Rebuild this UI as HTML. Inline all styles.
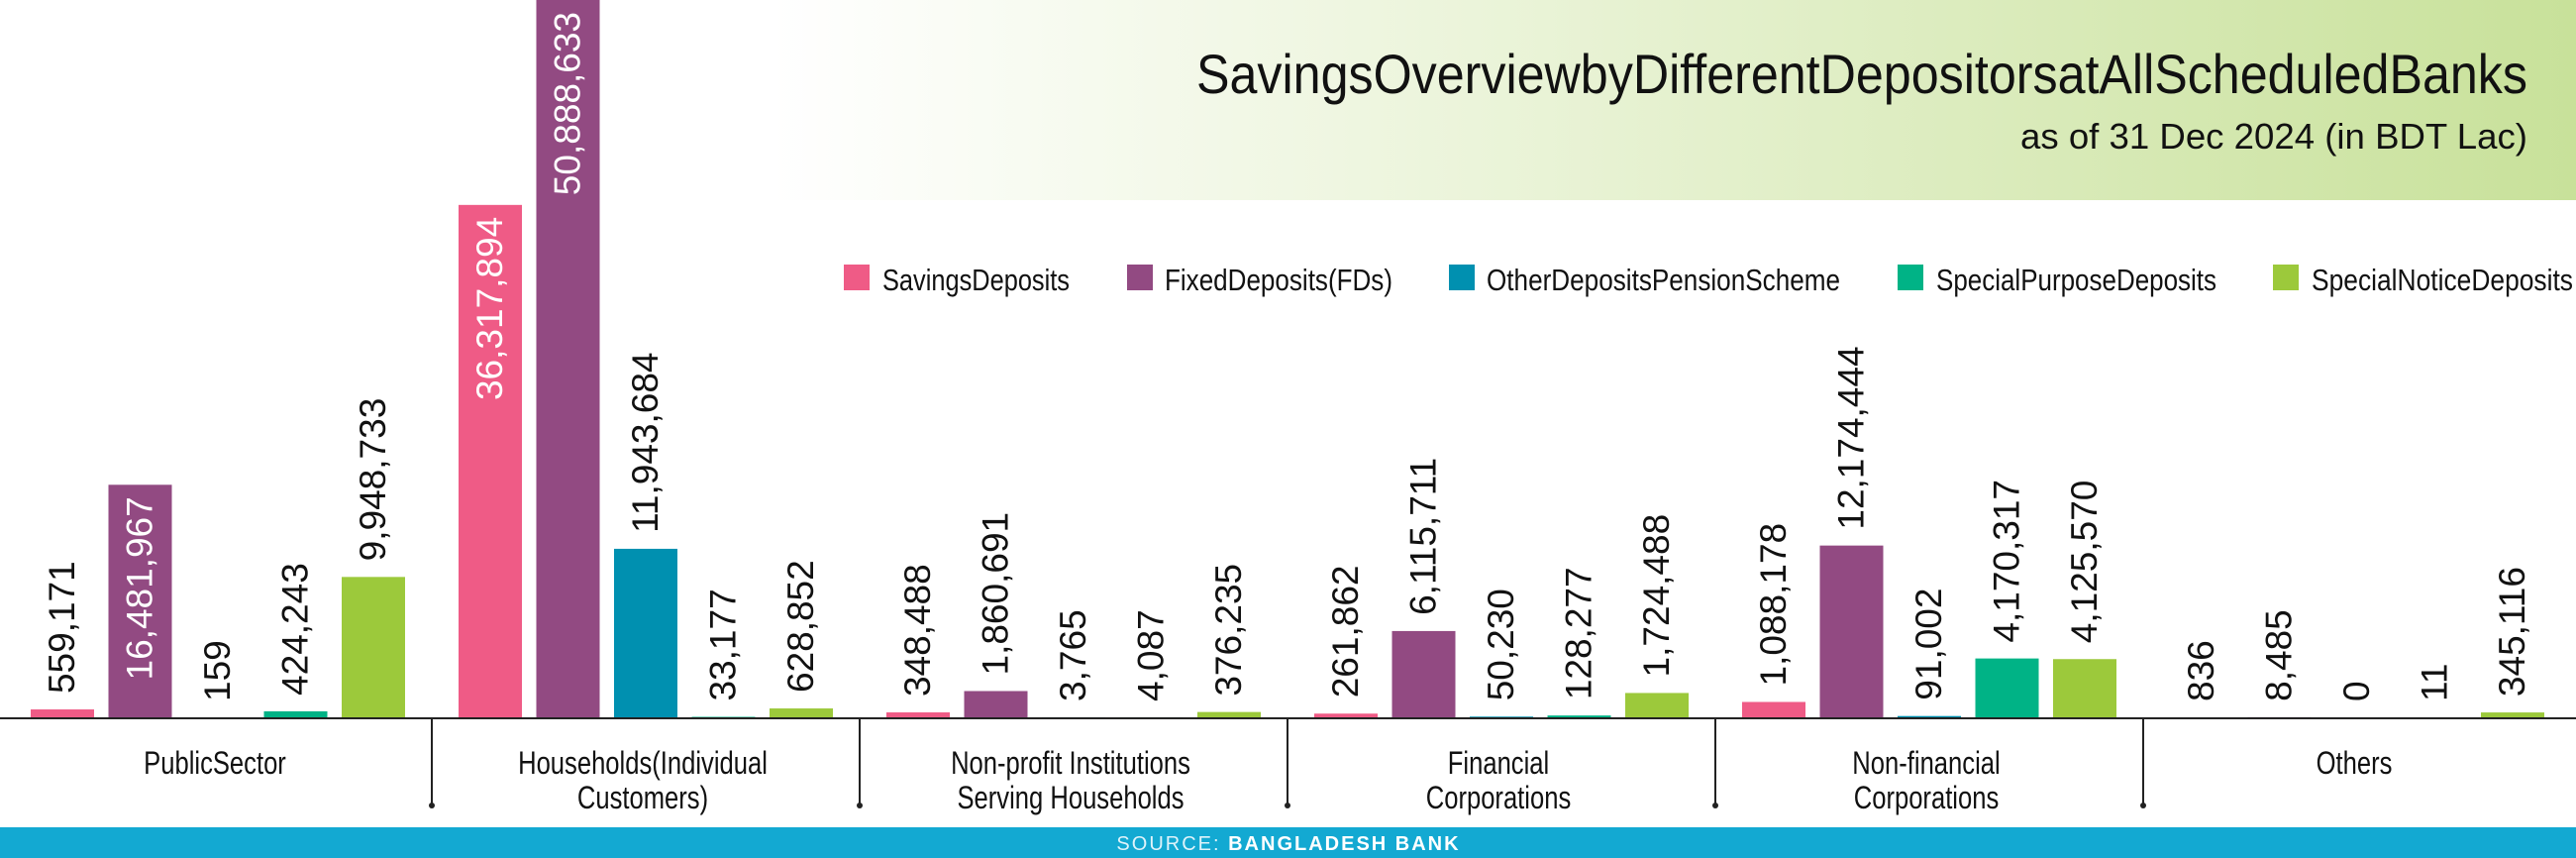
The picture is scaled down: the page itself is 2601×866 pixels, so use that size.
<!DOCTYPE html>
<html><head><meta charset="utf-8"><style>
html,body{margin:0;padding:0;background:#fff}
svg{display:block}
text{font-family:"Liberation Sans",sans-serif}
</style></head><body>
<svg id="chart" width="2601" height="866" viewBox="0 0 2601 866" xmlns="http://www.w3.org/2000/svg">
<defs>
<linearGradient id="hdr" x1="0" y1="0" x2="1" y2="0">
<stop offset="0" stop-color="#ffffff"/>
<stop offset="0.3" stop-color="#ffffff"/>
<stop offset="0.6" stop-color="#e9f3d6"/>
<stop offset="1" stop-color="#c8e19a"/>
</linearGradient>
</defs>
<rect x="0" y="0" width="2601" height="202" fill="url(#hdr)"/>
<text x="1208" y="94" font-size="56" fill="#111" textLength="1344" lengthAdjust="spacingAndGlyphs">SavingsOverviewbyDifferentDepositorsatAllScheduledBanks</text>
<text x="2040" y="150" font-size="36" fill="#111" textLength="512" lengthAdjust="spacingAndGlyphs">as of 31 Dec 2024 (in BDT Lac)</text>
<g id="legend"></g>
<g id="bars"></g>
<line x1="0" y1="725" x2="2601" y2="725" stroke="#222" stroke-width="2"/>
<g id="cats"></g>
<rect x="0" y="835" width="2601" height="31" fill="#13a9d2"/>
<text x="1301" y="858" font-size="20" fill="#fff" text-anchor="middle" letter-spacing="2"><tspan fill="#dff3fa">SOURCE: </tspan><tspan font-weight="bold">BANGLADESH BANK</tspan></text>
</svg>
<script>
const categories = [["PublicSector"],["Households(Individual","Customers)"],["Non-profit Institutions","Serving Households"],["Financial","Corporations"],["Non-financial","Corporations"],["Others"]];
const seriesNames = ["SavingsDeposits","FixedDeposits(FDs)","OtherDepositsPensionScheme","SpecialPurposeDeposits","SpecialNoticeDeposits"];
const savings = [559171, 36317894, 348488, 261862, 1088178, 836];
const fixed = [16481967, 50888633, 1860691, 6115711, 12174444, 8485];
const otherPension = [159, 11943684, 3765, 50230, 91002, 0];
const specialPurpose = [424243, 33177, 4087, 128277, 4170317, 11];
const specialNotice = [9948733, 628852, 376235, 1724488, 4125570, 345116];
const seriesValues = [savings, fixed, otherPension, specialPurpose, specialNotice];
const colors = ["#ef5b86","#924a82","#0090b0","#00b386","#9cc93b"];

const NS = "http://www.w3.org/2000/svg";
const baseY = 724, pxPerUnit = 14.24/1e6, groupW = 432, off = 31, step = 78.5, barW = 64;
function yScale(v){ return baseY - Math.min(v*pxPerUnit, baseY); }
function xBar(g,i){ return g*groupW + off + i*step; }
function fmt(v){ return v.toLocaleString("en-US"); }
function mk(tag, attrs){ const e=document.createElementNS(NS,tag); for(const k in attrs) e.setAttribute(k,attrs[k]); return e; }

const bars = document.getElementById("bars");
seriesValues.forEach((arr,i)=>{
  arr.forEach((v,g)=>{
    const x = xBar(g,i), y = yScale(v);
    const r = mk("rect",{x:x,y:y,width:barW,height:baseY-y,fill:colors[i]});
    
    
    bars.appendChild(r);
    const inside = v > 15e6;
    const cx = x + barW/2 + 12;
    const ty = inside ? y + 12 : y - 16;
    const t = mk("text",{x:0,y:0,"font-size":37,fill:inside?"#fff":"#111","text-anchor":inside?"end":"start",transform:`translate(${cx},${ty}) rotate(-90)`});
    t.textContent = fmt(v);
    
    
    bars.appendChild(t);
  });
});

const legendX = [[852,891,189],[1138,1176,230],[1463,1501,357],[1916,1955,283],[2295,2334,264]];
const legend = document.getElementById("legend");
seriesNames.forEach((n,i)=>{
  const s = mk("rect",{x:legendX[i][0],y:267,width:26,height:26,fill:colors[i]});
  
  
  legend.appendChild(s);
  const t = mk("text",{x:legendX[i][1],y:293,"font-size":31,fill:"#111",textLength:legendX[i][2],lengthAdjust:"spacingAndGlyphs"});
  t.textContent = n;
  
  
  legend.appendChild(t);
});

const cats = document.getElementById("cats");
categories.forEach((lines,g)=>{
  const cx = g*groupW + 217;
  lines.forEach((ln,j)=>{
    const t = mk("text",{x:cx/0.8,y:781+j*35,"font-size":32,fill:"#111","text-anchor":"middle",transform:"scale(0.8,1)"});
    t.textContent = ln;
    
    
    cats.appendChild(t);
  });
  if(g>0){
    const sx = g*groupW + 4;
    const l = mk("line",{x1:sx,y1:725,x2:sx,y2:812,stroke:"#222","stroke-width":2});
    
    
    cats.appendChild(l);
    const d = mk("circle",{cx:sx,cy:813,r:3,fill:"#222"});
    
    
    cats.appendChild(d);
  }
});
</script>
</body></html>
